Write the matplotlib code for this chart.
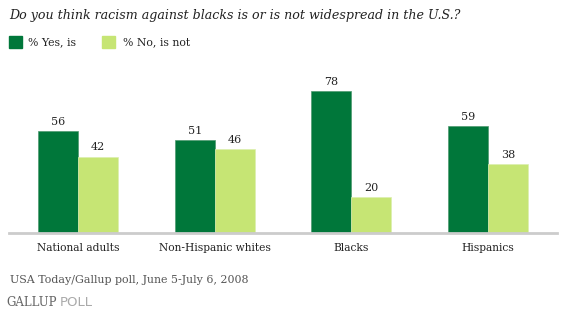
import matplotlib
matplotlib.use("Agg")
import matplotlib.pyplot as plt
import numpy as np

# data
groups = ["National adults", "Non-Hispanic whites", "Blacks", "Hispanics"]
yes_is = [56, 51, 78, 59]
no_is_not = [42, 46, 20, 38]

title = "Do you think racism against blacks is or is not widespread in the U.S.?"
source = "USA Today/Gallup poll, June 5-July 6, 2008"

dark = "#00773a"
light = "#c6e574"
serif = ["DejaVu Serif"]

W, H = 564, 324
fig = plt.figure(figsize=(W / 100, H / 100), dpi=100)

# axes placed in pixel terms
left, right, top, bottom = 9, 557, 80, 233
ax = fig.add_axes([left / W, 1 - bottom / H, (right - left) / W, (bottom - top) / H])

x = np.arange(len(groups))
w = 0.293
ax.bar(x - w / 2, yes_is, w, color=dark, edgecolor="#4f9a70", linewidth=0.5)
ax.bar(x + w / 2, no_is_not, w, color=light, edgecolor="#dcefb0", linewidth=0.5)

for xi, v in zip(x - w / 2, yes_is):
    ax.text(xi, v + 2.2, str(v), ha="center", va="bottom", fontsize=8,
            family=serif, color="#222222")
for xi, v in zip(x + w / 2, no_is_not):
    ax.text(xi, v + 2.2, str(v), ha="center", va="bottom", fontsize=8,
            family=serif, color="#222222")

ax.set_xlim(-0.505, 3.505)
ax.set_ylim(0, 84)
ax.set_yticks([])
ax.set_xticks(x)
ax.set_xticklabels(groups, family=serif, fontsize=7.7, color="#222222")
ax.tick_params(axis="x", length=0, pad=7)
for s in ["top", "right", "left"]:
    ax.spines[s].set_visible(False)
ax.spines["bottom"].set_color("#cccccc")
ax.spines["bottom"].set_linewidth(2)

# title
fig.text(9 / W, 1 - 15 / H, title, family=serif, style="italic", fontsize=9.1,
         color="#222222", va="center", ha="left")

# legend
for sx, tx, col, lab in [(9, 28, dark, "% Yes, is"), (102, 123, light, "% No, is not")]:
    fig.patches.append(plt.Rectangle((sx / W, 1 - 48 / H), 13 / W, 12 / H,
                                     transform=fig.transFigure, color=col))
    fig.text(tx / W, 1 - 42 / H, lab, family=serif, fontsize=7.8,
             color="#222222", va="center", ha="left")

# source and logo
fig.text(10 / W, 1 - 280 / H, source, family=serif, fontsize=7.9,
         color="#555555", va="center", ha="left")
fig.text(6 / W, 1 - 303 / H, "GALLUP", family=serif, fontsize=8.5,
         color="#666666", va="center", ha="left")
fig.text(60 / W, 1 - 303 / H, "POLL", family="DejaVu Sans", fontsize=9.5,
         color="#aaaaaa", va="center", ha="left")

fig.savefig("out.png", dpi=100)
